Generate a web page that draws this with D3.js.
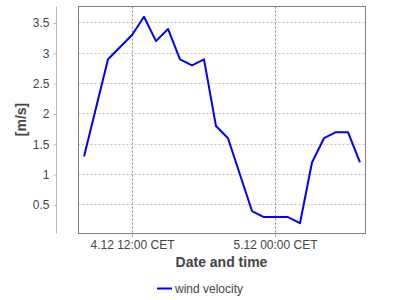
<!DOCTYPE html>
<html>
<head>
<meta charset="utf-8">
<script src="https://cdn.jsdelivr.net/npm/d3@7"></script>
<style>
  body { margin: 0; background: #fff; }
  svg { display: block; font-family: "Liberation Sans", Arial, sans-serif; }
</style>
</head>
<body>
<div id="chart"></div>
<script>
// wind velocity readings (day.month hour:minute)
const times = ["04.12 08:00", "04.12 10:00", "04.12 12:00", "04.12 13:00", "04.12 14:00",
  "04.12 15:00", "04.12 16:00", "04.12 17:00", "04.12 18:00", "04.12 19:00", "04.12 20:00",
  "04.12 22:00", "04.12 23:00", "05.12 01:00", "05.12 02:00", "05.12 03:00", "05.12 04:00",
  "05.12 05:00", "05.12 06:00", "05.12 07:00"];
const velocity = [1.3, 2.9, 3.3, 3.6, 3.2, 3.4, 2.9, 2.8, 2.9, 1.8, 1.6,
  0.4, 0.3, 0.3, 0.2, 1.2, 1.6, 1.7, 1.7, 1.2];
const yTicks = [0.5, 1, 1.5, 2, 2.5, 3, 3.5];
const xTicks = ["04.12 12:00", "05.12 00:00"];
const xTickLabels = ["4.12 12:00 CET", "5.12 00:00 CET"];
const seriesName = "wind velocity";

const W = 400, H = 300;
const margin = {top: 6, right: 35, bottom: 67, left: 78};
const width = W - margin.left - margin.right,
    height = H - margin.top - margin.bottom;

const parse = d3.timeParse("%d.%m %H:%M");
const data = times.map((t, i) => ({date: parse(t), value: velocity[i]}));

const svg = d3.select("#chart").append("svg")
    .attr("width", W)
    .attr("height", H);
const g = svg.append("g")
    .attr("transform", `translate(${margin.left + 0.5},${margin.top + 0.5})`);

// 2% margin on time axis, 5% on value axis
const ext = d3.extent(data, d => d.date);
const pad = (ext[1] - ext[0]) * 0.02;
const x = d3.scaleTime()
    .domain([new Date(+ext[0] - pad), new Date(+ext[1] + pad)])
    .range([0, width]);
const vExt = d3.extent(velocity);
const vPad = (vExt[1] - vExt[0]) * 0.05;
const y = d3.scaleLinear()
    .domain([vExt[0] - vPad, vExt[1] + vPad])
    .range([height, 0]);

// horizontal grid
g.append("g").selectAll("line")
  .data(yTicks).join("line")
    .attr("x1", 0).attr("x2", width)
    .attr("y1", d => Math.round(y(d))).attr("y2", d => Math.round(y(d)))
    .attr("stroke", "#c4c4c4")
    .attr("stroke-dasharray", "2,2");

// vertical grid
g.append("g").selectAll("line")
  .data(xTicks).join("line")
    .attr("x1", d => Math.round(x(parse(d)))).attr("x2", d => Math.round(x(parse(d))))
    .attr("y1", 0).attr("y2", height + 3)
    .attr("stroke", "#8a8a8a")
    .attr("stroke-dasharray", "2,2");

// x axis labels
g.append("g").selectAll("text")
  .data(xTicks).join("text")
    .attr("x", d => Math.round(x(parse(d))))
    .attr("y", height + 15)
    .attr("text-anchor", "middle")
    .attr("font-size", 12)
    .attr("fill", "#444")
    .text((d, i) => xTickLabels[i]);

// y axis, offset from the plot
const yAxis = g.append("g")
    .attr("transform", "translate(-22,0)")
    .call(d3.axisLeft(y).tickValues(yTicks).tickSize(3).tickPadding(4)
      .tickFormat(d3.format("")));
yAxis.select(".domain").attr("stroke", "#bbb").attr("d", `M0,0V${height}`);
yAxis.selectAll(".tick line").attr("stroke", "#bbb");
yAxis.selectAll(".tick text").attr("font-size", 12).attr("fill", "#444")
    .attr("font-family", "Liberation Sans, Arial, sans-serif");

// the series
g.append("path")
    .datum(data)
    .attr("fill", "none")
    .attr("stroke", "#0000ff")
    .attr("stroke-width", 2)
    .attr("stroke-linejoin", "round")
    .attr("d", d3.line()
      .x(d => x(d.date))
      .y(d => y(d.value)));

// plot border
g.append("rect")
    .attr("width", width).attr("height", height)
    .attr("fill", "none")
    .attr("stroke", "#808080");

// axis titles
svg.append("text")
    .attr("x", margin.left + width / 2)
    .attr("y", 267)
    .attr("text-anchor", "middle")
    .attr("font-size", 14).attr("font-weight", "bold")
    .attr("fill", "#444")
    .text("Date and time");
svg.append("text")
    .attr("transform", `translate(26,${margin.top + height / 2}) rotate(-90)`)
    .attr("text-anchor", "middle")
    .attr("font-size", 14).attr("font-weight", "bold")
    .attr("fill", "#444")
    .text("[m/s]");

// legend
const legend = svg.append("g").attr("transform", "translate(157,288.5)");
legend.append("line")
    .attr("x1", 0).attr("x2", 15)
    .attr("stroke", "#0000ff").attr("stroke-width", 2);
legend.append("text")
    .attr("x", 18).attr("y", 4)
    .attr("font-size", 12).attr("fill", "#444")
    .text(seriesName);
</script>
</body>
</html>
